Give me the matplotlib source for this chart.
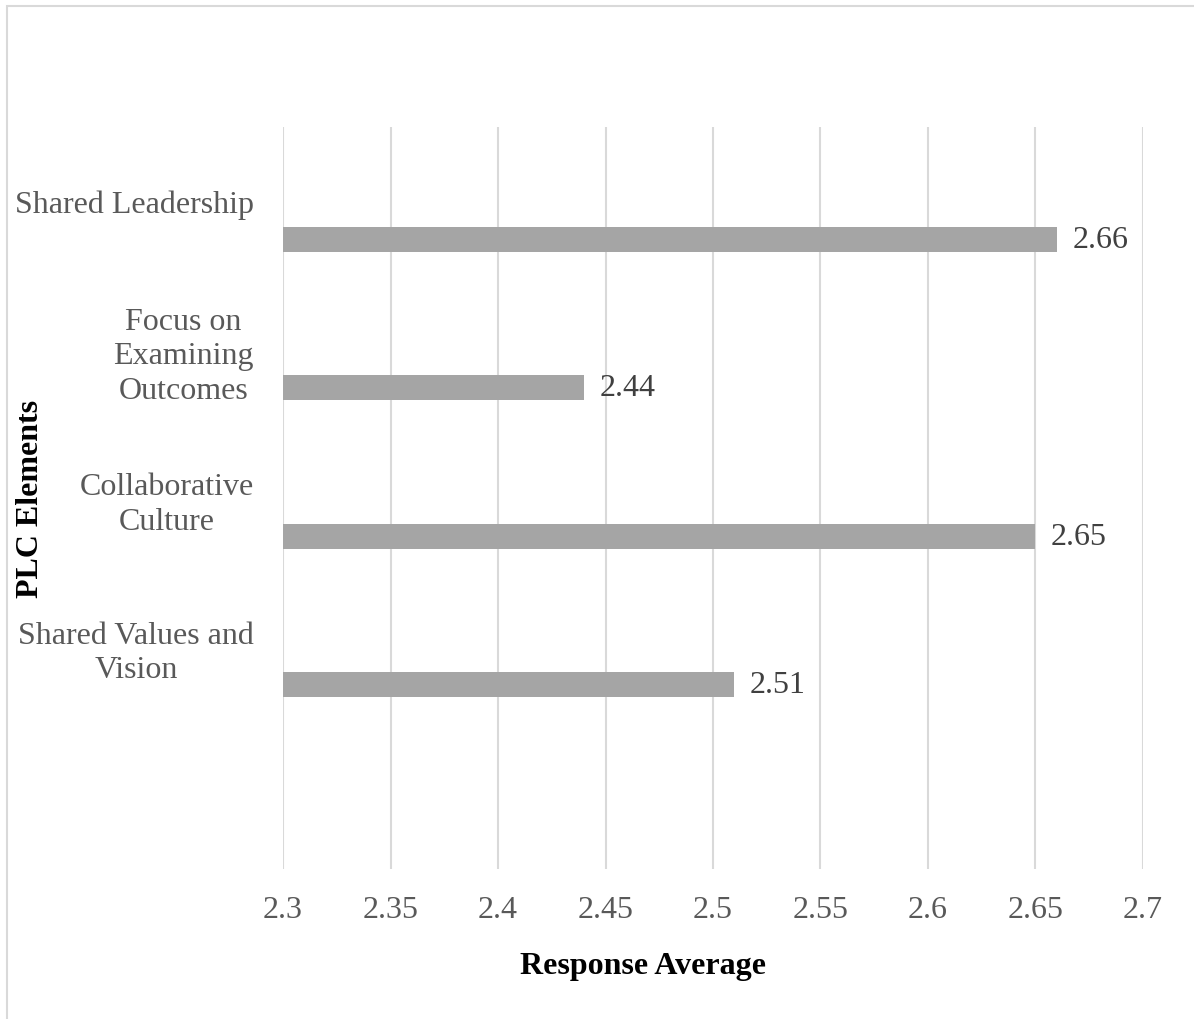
#!/usr/bin/env python3

import matplotlib
matplotlib.use("Agg")
import matplotlib.pyplot as plt
from matplotlib.patches import Rectangle

# plc element averages, listed top to bottom.
elements = ["Shared Leadership", "Focus on\nExamining\nOutcomes", "Collaborative\nCulture", "Shared Values and\nVision"]
averages = [2.66, 2.44, 2.65, 2.51]
x_ticks = [2.3, 2.35, 2.4, 2.45, 2.5, 2.55, 2.6, 2.65, 2.7]
x_tick_labels = ["2.3", "2.35", "2.4", "2.45", "2.5", "2.55", "2.6", "2.65", "2.7"]

plt.rcParams["font.family"] = ["Liberation Serif", "DejaVu Serif"]

W, H = 1194, 1020
fig = plt.figure(figsize=(W / 100, H / 100), dpi=100)
ax = fig.add_axes([283 / W, 1 - 870 / H, (1143 - 283) / W, (870 - 128) / H])

# chart area frame.
fig.patches.append(Rectangle((7 / W, -0.01), 1.02 - 7 / W, 1 - 7 / H + 0.01, transform=fig.transFigure,
                             fill=False, edgecolor="#d9d9d9", linewidth=1.5))

# bars sit a little below each category centre.
offset = 0.257
pos = [i + offset for i in range(len(averages))]
ax.barh(pos, [v - 2.3 for v in averages], left=2.3, height=0.168, color="#a5a5a5", zorder=3)
for p, v in zip(pos, averages):
    ax.annotate(f"{v:.2f}", (v, p), xytext=(11, 0), textcoords="offset points",
                va="center", ha="left", fontsize=23, color="#404040")

ax.set_xlim(2.3, 2.7)
ax.set_ylim(4.5, -0.5)
ax.set_xticks(x_ticks)
ax.set_xticklabels(x_tick_labels, fontsize=23, color="#595959")
ax.set_yticks(range(len(elements)))
ax.set_yticklabels(elements, fontsize=23, color="#595959", multialignment="center", linespacing=1.25)
ax.tick_params(axis="both", length=0)
ax.tick_params(axis="x", pad=19)
ax.tick_params(axis="y", pad=21)

ax.grid(axis="x", color="#d9d9d9", linewidth=1.5, zorder=0)
ax.grid(axis="y", visible=False)
for s in ax.spines.values():
    s.set_visible(False)

ax.set_xlabel("Response Average", fontsize=23, fontweight="bold", color="black")
ax.xaxis.set_label_coords((643 - 283) / (1143 - 283), -(967 - 870) / (870 - 128), transform=ax.transAxes)
ax.xaxis.label.set_va("center")
ax.set_ylabel("PLC Elements", fontsize=23, fontweight="bold", color="black")
ax.yaxis.set_label_coords(-(283 - 30) / (1143 - 283), 0.5, transform=ax.transAxes)
ax.yaxis.label.set_va("center")

fig.savefig("out.png", dpi=100, facecolor="white")
